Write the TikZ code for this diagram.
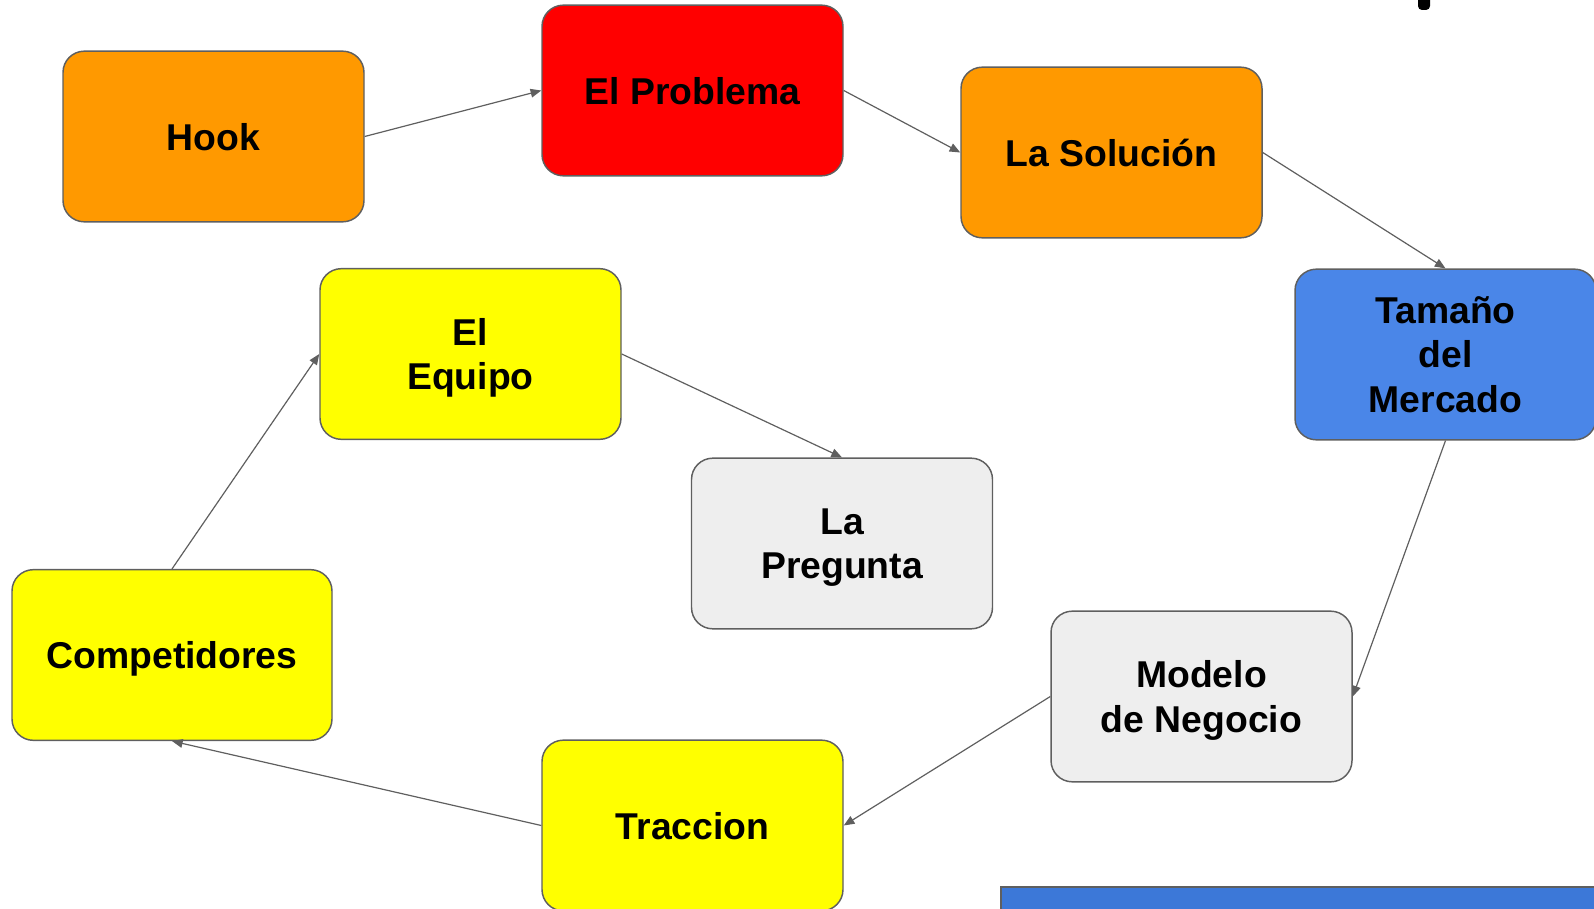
\documentclass[tikz,border=0pt]{standalone}
\usepackage{fontspec}
\setmainfont{Liberation Sans}
\usetikzlibrary{arrows.meta}

\definecolor{orng}{HTML}{FF9900}
\definecolor{rojo}{HTML}{FF0000}
\definecolor{azul}{HTML}{4A86E8}
\definecolor{azulb}{HTML}{3C78D8}
\definecolor{amar}{HTML}{FFFF00}
\definecolor{gris}{HTML}{EEEEEE}
\definecolor{borde}{HTML}{5F5F5F}

\tikzset{
  box/.style={draw=borde, line width=1.1pt, rounded corners=16pt,
    minimum width=225.75pt, minimum height=128pt, align=center,
    text depth=0pt, font=\fontsize{28}{33.5}\selectfont\bfseries},
  link/.style={draw=borde, line width=0.9pt, -{Triangle[length=8pt,width=6.5pt]}}
}

\begin{document}
\begin{tikzpicture}[x=0.75pt,y=-0.75pt]
\useasboundingbox (0,0) rectangle (1594,909);

% the boxes
\node[box, fill=orng] (hook) at (213.5,136.5) {Hook};
\node[box, fill=rojo] (problema) at (692.5,90.5) {El Problema};
\node[box, fill=orng] (solucion) at (1111.5,152.5) {La Solución};
\node[box, fill=azul] (mercado) at (1445.5,354.5) {Tamaño\\del\\Mercado};
\node[box, fill=amar] (equipo) at (470.5,354) {El\\Equipo};
\node[box, fill=gris] (pregunta) at (842,543.5) {La\\Pregunta};
\node[box, fill=amar, minimum width=240pt] (competidores) at (172,655) {Competidores};
\node[box, fill=gris] (modelo) at (1201.5,696.5) {Modelo\\de Negocio};
\node[box, fill=amar] (traccion) at (692.5,825.5) {Traccion};

% the links
\draw[link] (hook.east) -- (problema.west);
\draw[link] (problema.east) -- (solucion.west);
\draw[link] (solucion.east) -- (mercado.north);
\draw[link] (mercado.south) -- (modelo.east);
\draw[link] (modelo.west) -- (traccion.east);
\draw[link] (traccion.west) -- (competidores.south);
\draw[link] (competidores.north) -- (equipo.west);
\draw[link] (equipo.east) -- (pregunta.north);

% cut-off pieces at the edges
\fill[black, rounded corners=3pt] (1418,-10) rectangle (1430,10);
\draw[borde, line width=1.1pt, fill=azulb] (1001,887) rectangle (1620,930);

\end{tikzpicture}
\end{document}
